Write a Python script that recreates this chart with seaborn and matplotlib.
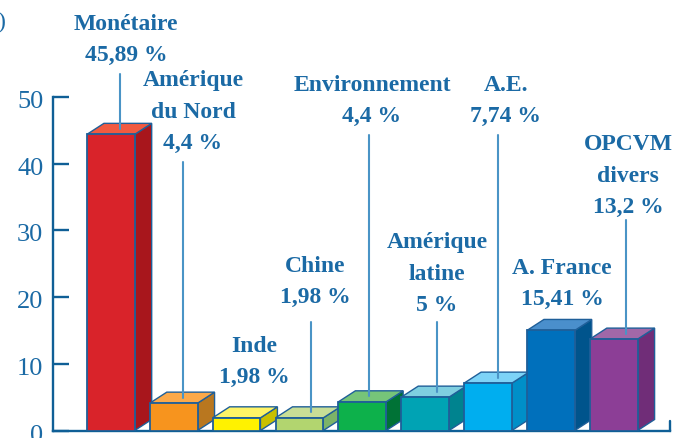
import pandas as pd
import matplotlib.pyplot as plt
import seaborn as sns
from matplotlib.patches import Polygon
from matplotlib.transforms import ScaledTranslation

# data (bar heights as drawn, labels as printed)
categories = ["Monétaire", "Amérique du Nord", "Inde", "Chine", "Environnement",
              "Amérique latine", "A.E.", "A. France", "OPCVM divers"]
heights = [44.4, 4.1, 1.9, 1.9, 4.3, 5.0, 7.1, 15.0, 13.7]
labels = ["Monétaire\n45,89 %", "Amérique\ndu Nord\n4,4 %", "Inde\n1,98 %", "Chine\n1,98 %",
          "Environnement\n4,4 %", "Amérique\nlatine\n5 %", "A.E.\n7,74 %",
          "A. France\n15,41 %", "OPCVM\ndivers\n13,2 %"]
y_ticks = [0, 10, 20, 30, 40, 50]

# colours: front, side, top
front = ["#D9232A", "#F7941E", "#FFF200", "#B2D56F", "#0DB14B", "#00A3B4", "#00AEEF", "#0070BC", "#8C3E96"]
side = ["#A8161C", "#B9771F", "#C9C000", "#7CB368", "#007236", "#00838F", "#008FC8", "#00548C", "#702D78"]
top = ["#F15A40", "#FBA94A", "#FFF466", "#C8DE96", "#76C479", "#7FCFE0", "#7DD3F7", "#4A8FCC", "#A168A8"]

# label centres in pixels, leader top in pixels (None = no leader)
label_pos = [(126, 40), (193, 112), (254, 362), (315, 282), (372, 101), (437, 274), (506, 101), (562, 284), (628, 176)]
leader_top = [74, 162, None, 322, 135, 322, 135, None, 220]
leader_shift = [0.015, 0.02, 0, 0.05, -0.03, 0.05, 0.03, 0, 0.06]

TEXT = "#1B6AA5"
AXIS = "#0F5F96"
EDGE = "#1F5F99"
LEAD = "#4A94C6"
W, H = 677, 438
DX, DY = 0.27, 1.65  # depth of the fake 3d

sns.set_style("white")
plt.rcParams["font.family"] = ["Liberation Serif", "DejaVu Serif"]

df = pd.DataFrame({"cat": categories, "val": heights})

fig = plt.figure(figsize=(W / 100, H / 100), dpi=100)
ax = fig.add_axes([53 / W, (H - 430.5) / H, 617 / W, 333.5 / H])

sns.barplot(data=df, x="cat", y="val", hue="cat", palette=front, dodge=False, legend=False,
            width=0.76, edgecolor=EDGE, linewidth=1.3, saturation=1, ax=ax, zorder=3)

ax.set_xlim(-0.92, 8.895)
ax.set_ylim(0, 50)
ax.set_xlabel("")
ax.set_ylabel("")
ax.set_xticks([])
ax.set_yticks(y_ticks)

# side and top faces, built from the bars seaborn drew
for i, bar in enumerate(ax.patches[:len(categories)]):
    x0, w, h = bar.get_x(), bar.get_width(), bar.get_height()
    x1 = x0 + w
    ax.add_patch(Polygon([(x1, 0), (x1 + DX, DY), (x1 + DX, h + DY), (x1, h)], closed=True, facecolor=side[i],
                         edgecolor=EDGE, linewidth=1.0, zorder=2, clip_on=False))
    ax.add_patch(Polygon([(x0, h), (x0 + DX, h + DY), (x1 + DX, h + DY), (x1, h)], closed=True, facecolor=top[i],
                         edgecolor=EDGE, linewidth=1.0, zorder=2, clip_on=False))

    cx, cy = label_pos[i]
    fig.text(cx / W, (H - cy) / H, labels[i], color=TEXT, fontsize=17, fontweight="bold",
             ha="center", va="center", linespacing=1.65)

    if leader_top[i] is not None:
        lx = x0 + w / 2 + DX / 2 + leader_shift[i]
        ly = (430.5 - leader_top[i]) / 6.67
        ax.plot([lx, lx], [h + DY / 2, ly], color=LEAD, lw=1.5, zorder=4, clip_on=False)

sns.despine(ax=ax)
for s in ["left", "bottom"]:
    ax.spines[s].set_color(AXIS)
    ax.spines[s].set_linewidth(1.7)
ax.tick_params(axis="y", direction="in", length=11.5, width=1.7, color=AXIS, labelcolor=TEXT,
               labelsize=19, pad=7, left=True)
# tick numbers sit a little under their ticks in the original
nudge = ScaledTranslation(0, -2.5 / 100, fig.dpi_scale_trans)
for t in ax.get_yticklabels():
    t.set_transform(t.get_transform() + nudge)

# little end mark on the right of the baseline
ax.plot([8.895, 8.895], [0, 1.4], color=AXIS, lw=1.7, clip_on=False, zorder=4)

# leftover glyph at the picture's edge
fig.text(-3 / W, (H - 22) / H, ")", color=TEXT, fontsize=17, ha="left", va="center")

fig.savefig("out.png", dpi=100)
